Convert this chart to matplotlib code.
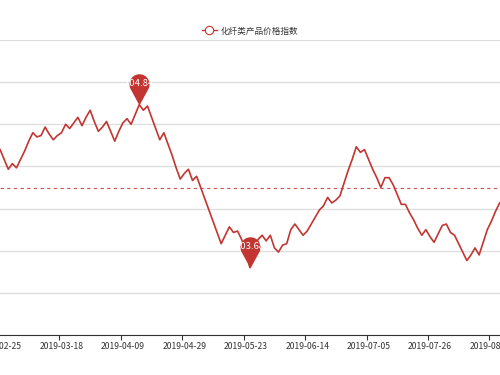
import numpy as np
import matplotlib
matplotlib.use("Agg")
import matplotlib.pyplot as plt
from matplotlib.path import Path
from matplotlib.lines import Line2D

plt.rcParams['font.family'] = ['Noto Sans CJK SC', 'DejaVu Sans']

# data (one value per trading day)
series_name = '化纤类产品价格指数'
values = [
    104.52, 104.45, 104.38, 104.42, 104.39, 104.45, 104.51, 104.58, 104.64, 104.61,
    104.62, 104.68, 104.63, 104.59, 104.62, 104.64, 104.70, 104.67, 104.71, 104.75,
    104.69, 104.75, 104.80, 104.72, 104.65, 104.68, 104.72, 104.65, 104.58, 104.65,
    104.71, 104.74, 104.70, 104.77, 104.84, 104.80, 104.83, 104.75, 104.67, 104.59,
    104.64, 104.56, 104.48, 104.39, 104.31, 104.35, 104.38, 104.30, 104.33, 104.25,
    104.17, 104.09, 104.01, 103.93, 103.85, 103.91, 103.97, 103.93, 103.94, 103.88,
    103.80, 103.68, 103.80, 103.88, 103.91, 103.87, 103.91, 103.82, 103.79, 103.84,
    103.85, 103.95, 103.99, 103.95, 103.91, 103.94, 103.99, 104.04, 104.09, 104.12,
    104.18, 104.14, 104.16, 104.19, 104.28, 104.37, 104.45, 104.54, 104.50, 104.52,
    104.45, 104.38, 104.32, 104.25, 104.32, 104.32, 104.27, 104.20, 104.13, 104.13,
    104.07, 104.02, 103.96, 103.91, 103.95, 103.90, 103.86, 103.92, 103.98, 103.99,
    103.93, 103.91, 103.85, 103.79, 103.73, 103.77, 103.82, 103.77, 103.86, 103.95,
    104.01, 104.08, 104.14,
]
tick_labels = ['2019-02-25', '2019-03-18', '2019-04-09', '2019-04-29', '2019-05-23',
               '2019-06-14', '2019-07-05', '2019-07-26', '2019-08-16']
label_step = 15
avg_value = 104.25  # markLine average (whole series, partly off screen)
y_ticks = [103.2, 103.5, 103.8, 104.1, 104.4, 104.7, 105.0, 105.3]

red = '#c23531'
x = np.arange(len(values))
y = np.array(values)

fig = plt.figure(figsize=(5, 3.75), dpi=100)
ax = fig.add_axes([0, 40 / 375, 1, 295 / 375])

ax.plot(x, y, color=red, lw=1.2, zorder=3)
ax.axhline(avg_value, color=red, lw=0.8, ls=(0, (3, 3)), alpha=0.85, zorder=2)

# pin marker, tip at the origin
r, d = 1.0, 2.1
a = np.degrees(np.arccos(r / d))
arc = Path.arc(-90 + a, 270 - a)
arc_verts = arc.vertices * r + np.array([0, d])
verts = np.vstack([[0, 0], arc_verts, [0, 0], [0, 0]])
codes = [Path.MOVETO, Path.LINETO] + list(arc.codes[1:]) + [Path.LINETO, Path.CLOSEPOLY]
pin = Path(verts, codes)
pin_size = 45
top = d + r
for idx in [int(np.argmax(y)), int(np.argmin(y))]:
    ax.plot([x[idx]], [y[idx]], marker=pin, markersize=pin_size, color=red,
            markeredgewidth=0, linestyle='none', zorder=5, clip_on=False)
    ax.annotate(f'{y[idx]:.2f}', (x[idx], y[idx]),
                xytext=(0, pin_size / 2 * d / top), textcoords='offset points',
                ha='center', va='center', color='white', fontsize=6.8, zorder=6)

ax.set_yticks(y_ticks)
ax.set_yticklabels([])
ax.tick_params(axis='y', length=0)
ax.grid(axis='y', color='#dddddd', lw=0.9)
ax.set_axisbelow(True)

major = np.arange(len(tick_labels)) * label_step
ax.set_xticks(major)
ax.set_xticklabels(tick_labels, fontsize=6.2, color='#333333')
ax.set_xticks(np.arange(-0.5, len(values) + 15, label_step), minor=True)
ax.tick_params(axis='x', which='major', length=0, pad=5)
ax.tick_params(axis='x', which='minor', length=3.6, color='#333333', width=0.8)

# limits after the ticks, so the tick lists do not widen the view
ax.set_xlim(-0.02, 500 / 4.095)
ax.set_ylim(y_ticks[0], y_ticks[-1])

for s in ['left', 'right', 'top']:
    ax.spines[s].set_visible(False)
ax.spines['bottom'].set_color('#333333')
ax.spines['bottom'].set_linewidth(0.8)

handle = Line2D([0], [0], color=red, lw=1, marker='o', markersize=6,
                markerfacecolor='white', markeredgecolor=red, markeredgewidth=0.8)
fig.legend([handle], [series_name], loc='center', bbox_to_anchor=(0.5, 1 - 31 / 375),
           frameon=False, fontsize=6.2, handlelength=1.8, handletextpad=0.4,
           labelcolor='#333333')

fig.savefig('out.png', dpi=100)
